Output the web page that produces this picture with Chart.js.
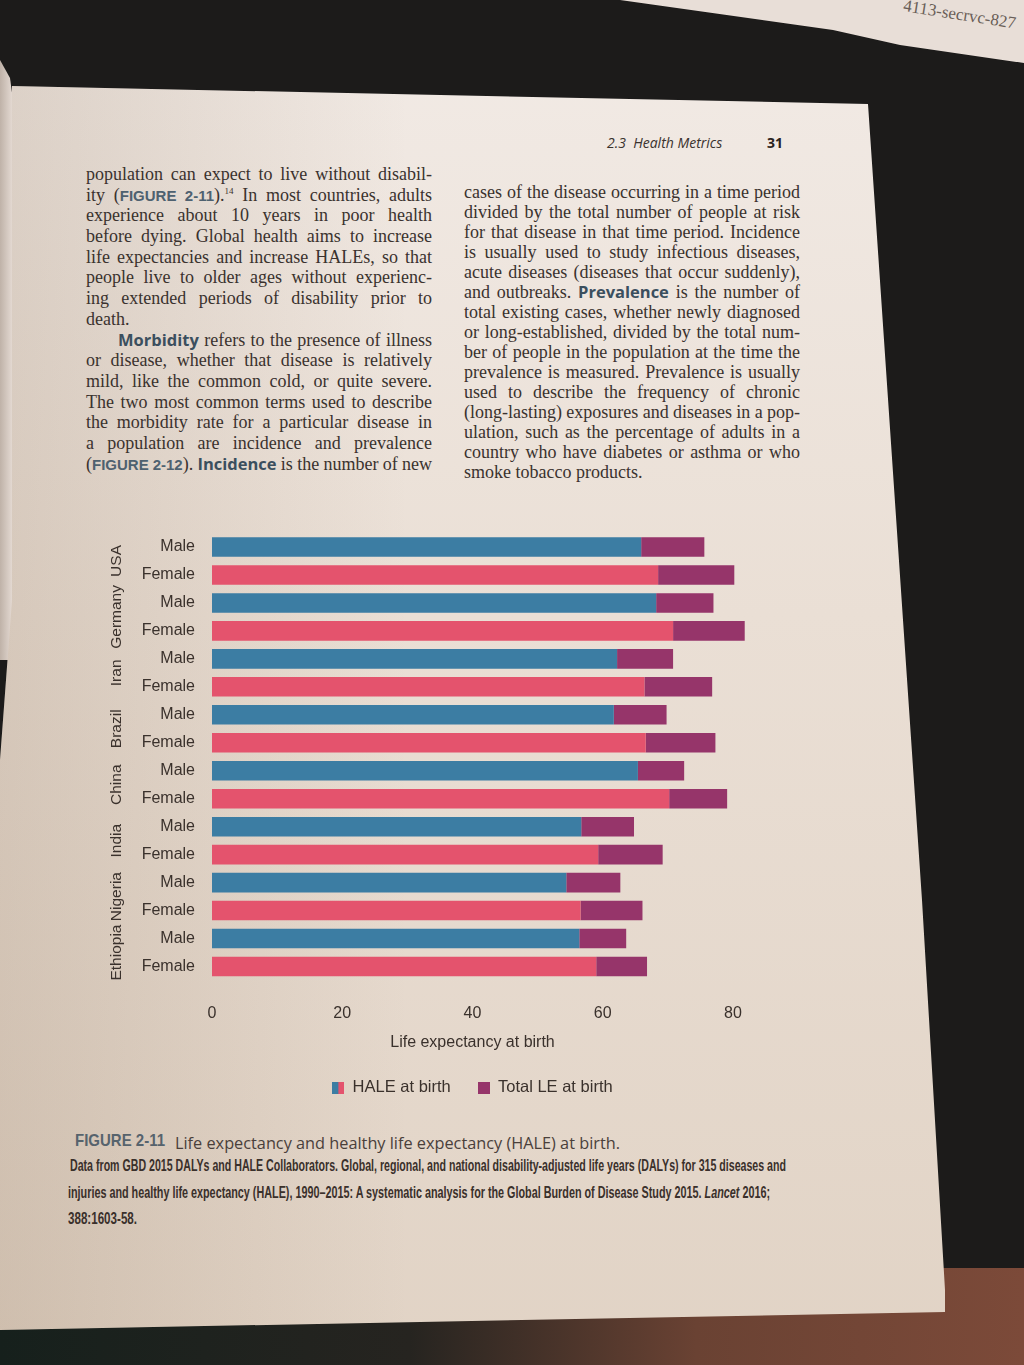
<!DOCTYPE html>
<html>
<head>
<meta charset="utf-8">
<script src="https://cdn.jsdelivr.net/npm/chart.js@4.4.1/dist/chart.umd.min.js"></script>
<style>
html,body{margin:0;padding:0;}
body{width:1024px;height:1365px;position:relative;overflow:hidden;background:#1c1b1a;color:#3a322e;font-family:"Liberation Serif",serif;}
.floor{position:absolute;left:0;top:1268px;width:1024px;height:97px;background:linear-gradient(to right,#16201c 0%,#262420 40%,#6a4233 68%,#7c4a39 100%);}
.upper{position:absolute;left:0;top:0;width:1024px;height:80px;background:#e8ded7;clip-path:polygon(620px 0,1024px 0,1024px 63px,900px 45px,833px 30px);}
.upper span{position:absolute;left:905px;top:-4px;font:17px "Liberation Serif",serif;color:#6a5e58;transform:rotate(9deg);transform-origin:left top;}
.sliver{position:absolute;left:0;top:60px;width:14px;height:600px;background:linear-gradient(to right,#bfb2a8,#e9dfd8);clip-path:polygon(0 0,10px 18px,13px 40px,13px 600px,0 600px);}
.page{position:absolute;left:0;top:0;width:1024px;height:1365px;
  background:linear-gradient(to right,rgba(110,80,50,0.16) 0%,rgba(110,80,50,0) 40%),linear-gradient(to bottom,#f2ebe6 0%,#eadfd5 45%,#e1d3c5 100%);
  clip-path:polygon(12px 86px,868px 104px,922px 900px,945px 1290px,945px 1312px,0 1330px,0 760px,12px 600px);}
.hdr{position:absolute;top:133px;font:italic 14px "Open Sans","Liberation Sans",sans-serif;color:#3a322e;}
.num{position:absolute;top:133px;left:767px;font:bold 14px "Open Sans","Liberation Sans",sans-serif;color:#2a2320;}
.col{position:absolute;font-size:18px;}
.col div{white-space:nowrap;}
#colL div{height:20.7px;line-height:20.7px;}
#colR div{height:20px;line-height:20px;}
.col span{white-space:nowrap;}
.kw{font-family:"Open Sans","Liberation Sans",sans-serif;font-weight:bold;color:#3b4f5e;font-size:16.5px;}
.fig{font-family:"Liberation Sans Narrow","Liberation Sans",sans-serif;font-weight:bold;color:#4e6170;font-size:15px;}
sup{font-size:9px;line-height:0;}
.fit{position:absolute;white-space:nowrap;transform-origin:left center;}
#chart{position:absolute;left:60px;top:500px;}
</style>
</head>
<body>
<div class="floor"></div>
<div class="upper"><span>4113-secrvc-827</span></div>
<div class="sliver"></div>
<div class="page"></div>

<div class="hdr" style="left:607px">2.3&nbsp; Health Metrics</div>
<div class="num">31</div>

<div class="col" id="colL" style="left:86px;top:164px;width:346px">
  <div class="j"><span>population can expect to live without disabil-</span></div>
  <div class="j"><span>ity (<span class="fig">FIGURE 2-11</span>).<sup>14</sup> In most countries, adults</span></div>
  <div class="j"><span>experience about 10 years in poor health</span></div>
  <div class="j"><span>before dying. Global health aims to increase</span></div>
  <div class="j"><span>life expectancies and increase HALEs, so that</span></div>
  <div class="j"><span>people live to older ages without experienc-</span></div>
  <div class="j"><span>ing extended periods of disability prior to</span></div>
  <div><span>death.</span></div>
  <div class="j" data-indent="32"><span><span class="kw">Morbidity</span> refers to the presence of illness</span></div>
  <div class="j"><span>or disease, whether that disease is relatively</span></div>
  <div class="j"><span>mild, like the common cold, or quite severe.</span></div>
  <div class="j"><span>The two most common terms used to describe</span></div>
  <div class="j"><span>the morbidity rate for a particular disease in</span></div>
  <div class="j"><span>a population are incidence and prevalence</span></div>
  <div class="j"><span>(<span class="fig">FIGURE 2-12</span>). <span class="kw">Incidence</span> is the number of new</span></div>
</div>

<div class="col" id="colR" style="left:464px;top:182px;width:336px">
  <div class="j"><span>cases of the disease occurring in a time period</span></div>
  <div class="j"><span>divided by the total number of people at risk</span></div>
  <div class="j"><span>for that disease in that time period. Incidence</span></div>
  <div class="j"><span>is usually used to study infectious diseases,</span></div>
  <div class="j"><span>acute diseases (diseases that occur suddenly),</span></div>
  <div class="j"><span>and outbreaks. <span class="kw">Prevalence</span> is the number of</span></div>
  <div class="j"><span>total existing cases, whether newly diagnosed</span></div>
  <div class="j"><span>or long-established, divided by the total num-</span></div>
  <div class="j"><span>ber of people in the population at the time the</span></div>
  <div class="j"><span>prevalence is measured. Prevalence is usually</span></div>
  <div class="j"><span>used to describe the frequency of chronic</span></div>
  <div class="j"><span>(long-lasting) exposures and diseases in a pop-</span></div>
  <div class="j"><span>ulation, such as the percentage of adults in a</span></div>
  <div class="j"><span>country who have diabetes or asthma or who</span></div>
  <div><span>smoke tobacco products.</span></div>
</div>

<canvas id="chart" width="760" height="606"></canvas>

<div class="fit" data-w="90" style="left:75px;top:1131px;font:bold 17px 'Liberation Sans Narrow','Liberation Sans',sans-serif;color:#56636d">FIGURE 2-11</div>
<div class="fit" data-w="445" style="left:175px;top:1131px;font:17px 'Open Sans','Liberation Sans',sans-serif;color:#4a403b">Life expectancy and healthy life expectancy (HALE) at birth.</div>
<div class="fit" data-w="716" style="left:70px;top:1157px;font:bold 16px 'Liberation Sans Narrow','Liberation Sans',sans-serif;color:#3a302b">Data from GBD 2015 DALYs and HALE Collaborators. Global, regional, and national disability-adjusted life years (DALYs) for 315 diseases and</div>
<div class="fit" data-w="702" style="left:68px;top:1184px;font:bold 16px 'Liberation Sans Narrow','Liberation Sans',sans-serif;color:#3a302b">injuries and healthy life expectancy (HALE), 1990–2015: A systematic analysis for the Global Burden of Disease Study 2015. <i>Lancet</i> 2016;</div>
<div class="fit" data-w="69" style="left:68px;top:1210px;font:bold 16px 'Liberation Sans Narrow','Liberation Sans',sans-serif;color:#3a302b">388:1603-58.</div>

<script>
// --- data (years) ---
const countries = ['USA', 'Germany', 'Iran', 'Brazil', 'China', 'India', 'Nigeria', 'Ethiopia'];
const sexes = ['Male', 'Female'];
const haleMale   = [65.9, 68.2, 62.2, 61.7, 65.4, 56.7, 54.4, 56.4];
const haleFemale = [68.5, 70.8, 66.4, 66.6, 70.2, 59.3, 56.6, 59.0];
const totalMale   = [75.6, 77.0, 70.8, 69.8, 72.5, 64.8, 62.7, 63.6];
const totalFemale = [80.2, 81.8, 76.8, 77.3, 79.1, 69.2, 66.1, 66.8];
const xTicks = [0, 20, 40, 60, 80];

// --- colours / fonts ---
const BLUE = '#3c7da3', PINK = '#e4536d', PURPLE = '#96356a';
const TEXT = '#3a312c';
const SANS = '"Liberation Sans", Arial, sans-serif';

// --- justify text lines via word spacing ---
document.querySelectorAll('.col').forEach(col => {
  const W = parseFloat(col.style.width);
  col.querySelectorAll(':scope > div').forEach(line => {
    const ind = parseFloat(line.dataset.indent || 0);
    if (ind) line.style.paddingLeft = ind + 'px';
    if (!line.classList.contains('j')) return;
    const span = line.firstElementChild;
    const nat = span.getBoundingClientRect().width;
    const spaces = (span.textContent.match(/ /g) || []).length;
    if (spaces) line.style.wordSpacing = ((W - ind - nat) / spaces) + 'px';
  });
});
document.querySelectorAll('.fit').forEach(el => {
  const w = el.getBoundingClientRect().width;
  el.style.transform = 'scaleX(' + (parseFloat(el.dataset.w) / w) + ')';
});

// --- build chart rows ---
const labels = [], hale = [], total = [], haleColors = [];
countries.forEach((c, i) => {
  labels.push(sexes[0], sexes[1]);
  hale.push(haleMale[i], haleFemale[i]);
  total.push([haleMale[i], totalMale[i]], [haleFemale[i], totalFemale[i]]);
  haleColors.push(BLUE, PINK);
});

function swatch(cols) {
  const c = document.createElement('canvas');
  c.width = 12; c.height = 12;
  const g = c.getContext('2d');
  cols.forEach((col, i) => {
    g.fillStyle = col;
    g.fillRect(i * 12 / cols.length, 0, 12 / cols.length, 12);
  });
  return c;
}

// country names, rotated, centred on each Male/Female pair
const countryLabels = {
  id: 'countryLabels',
  afterDraw(chart) {
    const {ctx, chartArea, scales: {y}} = chart;
    ctx.save();
    ctx.font = '15.5px ' + SANS;
    ctx.fillStyle = TEXT;
    ctx.textAlign = 'center';
    ctx.textBaseline = 'middle';
    countries.forEach((c, i) => {
      const py = (y.getPixelForValue(2 * i) + y.getPixelForValue(2 * i + 1)) / 2;
      ctx.save();
      ctx.translate(chartArea.left - 95, py);
      ctx.rotate(-Math.PI / 2);
      ctx.fillText(c, 0, 0);
      ctx.restore();
    });
    ctx.restore();
  }
};

new Chart(document.getElementById('chart'), {
  type: 'bar',
  data: {
    labels,
    datasets: [
      {label: 'HALE at birth', data: hale, backgroundColor: haleColors,
       grouped: false, clip: false, barPercentage: 0.7, categoryPercentage: 1},
      {label: 'Total LE at birth', data: total, backgroundColor: PURPLE,
       grouped: false, clip: false, barPercentage: 0.7, categoryPercentage: 1}
    ]
  },
  options: {
    indexAxis: 'y',
    responsive: false,
    animation: false,
    layout: {padding: {top: 33, right: 87, left: 0, bottom: 0}},
    scales: {
      x: {
        min: 0, max: 80,
        grid: {display: false, drawTicks: false},
        border: {display: false},
        afterBuildTicks: s => { s.ticks = xTicks.map(v => ({value: v})); },
        ticks: {padding: 23, color: TEXT, font: {size: 16, family: SANS}},
        title: {display: true, text: 'Life expectancy at birth', color: TEXT,
                font: {size: 16, family: SANS}, padding: {top: 0, bottom: 0}},
        afterFit: s => { s.height = 72; }
      },
      y: {
        grid: {display: false, drawTicks: false},
        border: {display: false},
        ticks: {padding: 17, color: TEXT, font: {size: 16, family: SANS}},
        afterFit: s => { s.width = 152; }
      }
    },
    plugins: {
      tooltip: {enabled: false},
      legend: {
        position: 'bottom',
        fullSize: false,
        labels: {
          usePointStyle: true, boxWidth: 12, boxHeight: 12, padding: 27,
          color: TEXT, font: {size: 16.5, family: SANS},
          generateLabels: () => [
            {text: 'HALE at birth', pointStyle: swatch([BLUE, PINK]), fillStyle: BLUE,
             strokeStyle: 'rgba(0,0,0,0)', lineWidth: 0, hidden: false, datasetIndex: 0, fontColor: TEXT},
            {text: 'Total LE at birth', pointStyle: swatch([PURPLE]), fillStyle: PURPLE,
             strokeStyle: 'rgba(0,0,0,0)', lineWidth: 0, hidden: false, datasetIndex: 1, fontColor: TEXT}
          ]
        }
      }
    }
  },
  plugins: [countryLabels]
});
</script>
</body>
</html>
